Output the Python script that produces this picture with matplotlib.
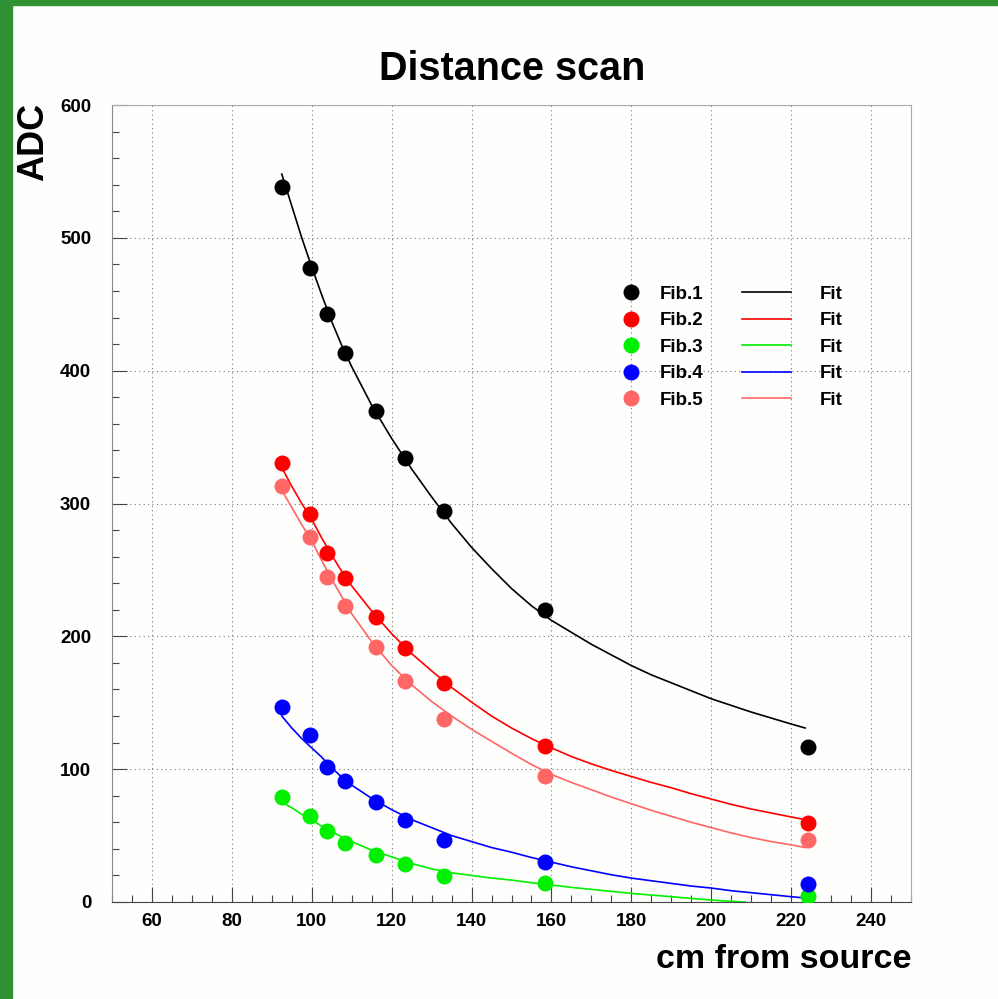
import numpy as np
import matplotlib
matplotlib.use("Agg")
import matplotlib.pyplot as plt
from matplotlib.patches import Rectangle
from matplotlib.lines import Line2D
from matplotlib.ticker import MultipleLocator

plt.rcParams['font.family'] = ['Liberation Sans', 'DejaVu Sans']
plt.rcParams['font.weight'] = 'bold'

# measured points (cm from source, ADC)
dist = [92.5, 99.5, 103.75, 108.25, 116, 123.25, 133, 158.5, 224.25]
fib1 = [538, 477, 443, 413, 370, 334, 294, 220, 117]
fib2 = [330.5, 292, 263, 244, 214.5, 191, 165, 117.5, 59.5]
fib3 = [79, 65, 53.5, 44.5, 35.5, 28.5, 19.5, 14.5, 4.5]
fib4 = [147, 126, 102, 91, 75, 62, 47, 30, 13.5]
fib5 = [313, 275, 244.5, 223, 192, 166, 138, 95, 46.5]

# fit curves
fit_x = [92.5, 95, 97.5, 100, 102.5, 105, 107.5, 110, 115, 120, 125, 130, 135,
         140, 145, 150, 155, 160, 165, 170, 175, 180, 185, 190, 195, 200,
         205, 210, 215, 220, 223.5]
fit1 = [548, 524, 500, 478, 457, 437, 419, 403, 374, 349, 326, 305, 285,
        267, 251, 236, 223, 212, 203, 194, 186, 178, 171, 165, 159, 153,
        148, 143, 138.5, 134, 131]
fit2 = [327, 313, 300, 288, 274, 261, 249, 238, 219, 202, 187, 174, 161.5,
        150.5, 140, 131, 123, 116, 109.5, 104, 99, 94.5, 90, 86, 81.5, 77.5,
        73.5, 70, 67, 64, 62]
fit4 = [140, 131, 123, 116, 109, 101, 94, 88, 78, 69.5, 62, 56, 50,
        45.5, 41, 37.5, 33.5, 30, 26.5, 23.5, 20.5, 18, 16, 14, 12, 10.5,
        8.5, 7, 5.5, 4, 3]
fit5 = [310, 297, 284, 272, 257, 243, 230, 217, 196, 178, 163.5, 151, 140,
        130, 121, 112, 103.5, 96, 90, 84.5, 79, 74, 69, 64.5, 60, 56,
        52, 48.5, 45.5, 43, 41]
fit3_x = [92.5, 95, 97.5, 100, 102.5, 105, 107.5, 110, 115, 120, 125, 130, 135,
          140, 145, 150, 155, 160, 165, 170, 175, 180, 185, 190, 195, 200,
          205, 208.5]
fit3 = [75, 71, 66, 62, 57, 53, 49, 45.5, 39, 34, 29, 25, 22,
        20, 18, 16.5, 14.5, 12.8, 11, 9.5, 8, 6.5, 5.2, 4, 2.7, 1.5,
        0.5, 0]

labels = ['Fib.1', 'Fib.2', 'Fib.3', 'Fib.4', 'Fib.5']
colors = ['#000000', '#ff0000', '#00f000', '#0000ff', '#ff6666']

bg = '#fefefc'
fig = plt.figure(figsize=(9.98, 9.99), dpi=100, facecolor=bg)
ax = fig.add_axes([112/998, 97/999, 799/998, 797/999], facecolor=bg)

# green frame of the canvas
fig.add_artist(Rectangle((0, 0), 12/998, 1, transform=fig.transFigure, color='#2e9232', zorder=0))
fig.add_artist(Rectangle((0, 1 - 5/999), 1, 5/999, transform=fig.transFigure, color='#2e9232', zorder=0))

fits = [(fit_x, fit1), (fit_x, fit2), (fit3_x, fit3), (fit_x, fit4), (fit_x, fit5)]
series = [fib1, fib2, fib3, fib4, fib5]
for (fx, fy), ys, c in zip(fits, series, colors):
    ax.plot(fx, fy, color=c, lw=1.2, zorder=3)
    ax.plot(dist, ys, 'o', color=c, ms=11.5, mec='none', zorder=4)

ax.set_xlim(50, 250)
ax.set_ylim(0, 600)
ax.xaxis.set_major_locator(MultipleLocator(20))
ax.xaxis.set_minor_locator(MultipleLocator(5))
ax.yaxis.set_major_locator(MultipleLocator(100))
ax.yaxis.set_minor_locator(MultipleLocator(20))
ax.tick_params(which='both', direction='in', color='#444444', width=0.8,
               labelsize=13.5, top=False, right=False)
ax.tick_params(axis='x', which='major', length=10.5, pad=8)
ax.tick_params(axis='y', which='major', length=10.5, pad=15)
ax.tick_params(which='minor', length=5)
for lab in ax.get_xticklabels() + ax.get_yticklabels():
    lab.set_fontweight('bold')
ax.grid(True, which='major', color='#777777', lw=0.8, linestyle=(0, (1, 3)))
ax.spines['left'].set_color('#888888')
ax.spines['bottom'].set_color('#444444')
ax.spines['top'].set_color('#aaaaaa')
ax.spines['right'].set_color('#aaaaaa')

# legend: points and fits in two columns
pt_handles = [Line2D([], [], ls='none', marker='o', ms=11.5, mec='none', color=c) for c in colors]
ln_handles = [Line2D([], [], color=c, lw=1.2) for c in colors]
prop = {'weight': 'bold', 'size': 13.5}
leg1 = ax.legend(pt_handles, labels, loc='center left', bbox_to_anchor=(0.638, 0.696),
                 frameon=False, prop=prop, handlelength=1.0, handletextpad=1.05,
                 labelspacing=0.5, borderpad=0, borderaxespad=0)
ax.add_artist(leg1)
ax.legend(ln_handles, ['Fit'] * 5, loc='center left', bbox_to_anchor=(0.7885, 0.696),
          frameon=False, prop=prop, handlelength=2.6, handletextpad=1.55,
          labelspacing=0.5, borderpad=0, borderaxespad=0)

fig.text(512/998, (999 - 80)/999, 'Distance scan', ha='center', va='baseline',
         fontsize=28.5, fontweight='bold')
fig.text(911/998, (999 - 968)/999, 'cm from source', ha='right', va='baseline',
         fontsize=24.5, fontweight='bold')
fig.text(16.5/998, (999 - 103)/999, 'ADC', ha='left', va='top', rotation=90,
         fontsize=26, fontweight='bold')

fig.savefig('out.png', dpi=100, facecolor=bg)
